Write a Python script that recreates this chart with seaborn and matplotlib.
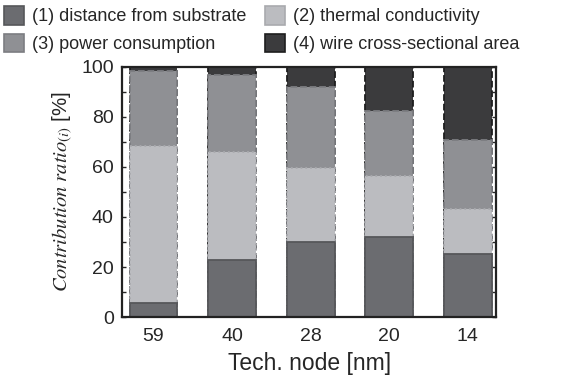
import numpy as np
import pandas as pd
import matplotlib
matplotlib.use("Agg")
import matplotlib.pyplot as plt
import seaborn as sns
from matplotlib.patches import Patch
from matplotlib.ticker import MultipleLocator

# data (percent per technology node)
nodes = ["59", "40", "28", "20", "14"]
distance = [5.6, 22.8, 30.1, 32.0, 25.2]
thermal = [62.9, 43.2, 29.4, 24.5, 18.0]
power = [30.0, 30.8, 32.6, 25.9, 27.6]
wire = [1.5, 3.2, 7.9, 17.6, 29.2]

labels = ["(1) distance from substrate", "(2) thermal conductivity",
          "(3) power consumption", "(4) wire cross-sectional area"]
colors = ["#6b6c70", "#bbbcc0", "#8f9094", "#3b3b3d"]
edges = ["#56575a", "#a9aaae", "#7c7d81", "#1e1e1e"]
styles = ["-", ":", "--", "--"]

sns.set_style("ticks")
plt.rcParams["font.family"] = ["Liberation Sans", "DejaVu Sans"]
plt.rcParams["mathtext.fontset"] = "stix"

df = pd.DataFrame({"node": nodes, "d": distance, "t": thermal, "p": power, "w": wire})
cum = df[["d", "t", "p", "w"]].cumsum(axis=1)

fig = plt.figure(figsize=(5.73, 3.82), dpi=100)
ax = fig.add_axes([0.213, 0.170, 0.653, 0.655])

# draw the stacks from the top layer down so each shorter bar sits over the taller one
for i, col in reversed(list(enumerate(["d", "t", "p", "w"]))):
    sns.barplot(x=df["node"], y=cum[col], ax=ax, color=colors[i], width=0.61,
                saturation=1, edgecolor=edges[i], linewidth=1.3, linestyle=styles[i])

ax.set_xlim(-0.4, 4.36)
ax.set_ylim(0, 100)
ax.yaxis.set_major_locator(MultipleLocator(20))
ax.yaxis.set_minor_locator(MultipleLocator(10))
ax.tick_params(axis="y", which="both", direction="in", left=True, right=True,
               labelsize=14, length=3, width=1, pad=6)
ax.tick_params(axis="x", length=0, labelsize=14, pad=8)
for s in ax.spines.values():
    s.set_linewidth(1.6)
    s.set_color("#222222")

ax.set_xlabel("Tech. node [nm]", fontsize=16.5, labelpad=5)
ax.set_ylabel(r"$\mathit{Contribution\ ratio}_{(i)}$ [%]", fontsize=14.8)
ax.yaxis.set_label_coords(-0.125, 0.5)

handles = [Patch(facecolor=colors[i], edgecolor=edges[i], linewidth=1.2) for i in range(4)]
order = [0, 2, 1, 3]
fig.legend([handles[i] for i in order], [labels[i] for i in order],
           loc="upper left", bbox_to_anchor=(-0.005, 1.003), ncol=2, frameon=False,
           fontsize=13, handlelength=1.1, handleheight=1.2, handletextpad=0.45,
           columnspacing=1.0, labelspacing=0.45, borderaxespad=0.0)

fig.savefig("out.png", dpi=100)
